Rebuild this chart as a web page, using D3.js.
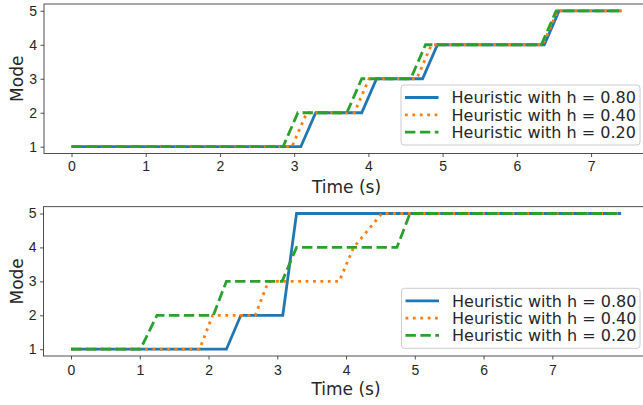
<!DOCTYPE html>
<html>
<head>
<meta charset="utf-8">
<script src="https://cdn.jsdelivr.net/npm/d3@7"></script>
<style>
	body { margin: 0; background: #fff; }
	svg { display: block; font-family: "DejaVu Sans", sans-serif; }
	.tick text { font-size: 14px; fill: #262626; }
	.axislabel { font-size: 17px; fill: #262626; }
	.legend text { font-size: 16px; fill: #262626; }
</style>
</head>
<body>
<svg id="chart" width="643" height="405"></svg>
<script>
"use strict";

// [time (s), mode] points
const labels = ["Heuristic with h = 0.80", "Heuristic with h = 0.40", "Heuristic with h = 0.20"];
const colors = ["#1f77b4", "#ff7f0e", "#2ca02c"];
const xticks = [0, 1, 2, 3, 4, 5, 6, 7];
const yticks = [1, 2, 3, 4, 5];

const top_h080 = [[0,1],[3.09,1],[3.29,2],[3.91,2],[4.11,3],[4.73,3],[4.93,4],[6.37,4],[6.57,5],[7.41,5]];
const top_h040 = [[0,1],[2.97,1],[3.17,2],[3.81,2],[4.01,3],[4.65,3],[4.85,4],[6.35,4],[6.55,5],[7.41,5]];
const top_h020 = [[0,1],[2.85,1],[3.05,2],[3.71,2],[3.91,3],[4.57,3],[4.77,4],[6.33,4],[6.53,5],[7.41,5]];

const bot_h080 = [[0,1],[2.26,1],[2.47,2],[3.08,2],[3.28,5],[8,5]];
const bot_h040 = [[0,1],[1.87,1],[2.06,2],[2.68,2],[2.87,3],[3.90,3],[4.11,4],[4.52,5],[8,5]];
const bot_h020 = [[0,1],[1.01,1],[1.25,2],[2.07,2],[2.26,3],[3.07,3],[3.28,4],[4.74,4],[4.93,5],[8,5]];

const panels = [
	{ series: [top_h080, top_h040, top_h020], left: 44, right: 649, top: 4, bottom: 153.5,
	  legend: { x: 401, y: 85, w: 239, h: 60 }, tickbase: 170.5, labelbase: 192.5 },
	{ series: [bot_h080, bot_h040, bot_h020], left: 43.5, right: 648.6, top: 206.7, bottom: 356,
	  legend: { x: 401.5, y: 288.3, w: 238.5, h: 60 }, tickbase: 375, labelbase: 395 }
];

const dashes = [null, "2.8,4.6", "10.4,4.5"];
const svg = d3.select("#chart");

for (let p of panels) {
	// matplotlib style 5% margins
	let all = p.series.flat();
	let xext = d3.extent(all, d=>d[0]);
	let yext = d3.extent(all, d=>d[1]);
	let xpad = (xext[1] - xext[0]) * 0.05;
	let ypad = (yext[1] - yext[0]) * 0.05;

	let xscale = d3.scaleLinear()
		.domain([xext[0] - xpad, xext[1] + xpad])
		.range([p.left, p.right]);
	let yscale = d3.scaleLinear()
		.domain([yext[0] - ypad, yext[1] + ypad])
		.range([p.bottom, p.top]);

	let g = svg.append("g");

	let xaxis = g.append("g")
		.attr("transform", `translate(0, ${p.bottom})`)
		.call(d3.axisBottom(xscale).tickValues(xticks).tickSize(3.5).tickPadding(3.5).tickFormat(d3.format("d")));
	xaxis.select(".domain").remove();
	xaxis.selectAll(".tick line").attr("stroke", "#262626").attr("stroke-width", 0.8);
	xaxis.selectAll(".tick text").attr("dy", null).attr("y", p.tickbase - p.bottom);

	let yaxis = g.append("g")
		.attr("transform", `translate(${p.left}, 0)`)
		.call(d3.axisLeft(yscale).tickValues(yticks).tickSize(3.5).tickPadding(3.5).tickFormat(d3.format("d")));
	yaxis.select(".domain").remove();
	yaxis.selectAll(".tick line").attr("stroke", "#262626").attr("stroke-width", 0.8);

	// frame
	g.append("rect")
		.attr("x", p.left)
		.attr("y", p.top)
		.attr("width", p.right - p.left)
		.attr("height", p.bottom - p.top)
		.attr("fill", "none")
		.attr("stroke", "#262626")
		.attr("stroke-width", 0.8);

	let line = d3.line()
		.x(d=>xscale(d[0]))
		.y(d=>yscale(d[1]));

	p.series.forEach((s, i)=>{
		g.append("path")
			.datum(s)
			.attr("d", line)
			.attr("fill", "none")
			.attr("stroke", colors[i])
			.attr("stroke-width", 2.8)
			.attr("stroke-dasharray", dashes[i]);
	});

	g.append("text")
		.classed("axislabel", true)
		.attr("x", (p.left + p.right) / 2)
		.attr("y", p.labelbase)
		.attr("text-anchor", "middle")
		.text("Time (s)");

	g.append("text")
		.classed("axislabel", true)
		.attr("transform", `translate(22.5, ${(p.top + p.bottom) / 2}) rotate(-90)`)
		.attr("text-anchor", "middle")
		.text("Mode");

	// legend, lower right
	let lg = g.append("g")
		.classed("legend", true)
		.attr("transform", `translate(${p.legend.x}, ${p.legend.y})`);
	lg.append("rect")
		.attr("width", p.legend.w)
		.attr("height", p.legend.h)
		.attr("rx", 3)
		.attr("fill", "#fff")
		.attr("fill-opacity", 0.8)
		.attr("stroke", "#cccccc")
		.attr("stroke-width", 1);
	labels.forEach((lab, i)=>{
		let cy = 12.5 + i * 17.3;
		lg.append("line")
			.attr("x1", 4)
			.attr("x2", 37.5)
			.attr("y1", cy)
			.attr("y2", cy)
			.attr("stroke", colors[i])
			.attr("stroke-width", 2.8)
			.attr("stroke-dasharray", dashes[i]);
		lg.append("text")
			.attr("x", 50.5)
			.attr("y", cy + 5.8)
			.text(lab);
	});
}
</script>
</body>
</html>
